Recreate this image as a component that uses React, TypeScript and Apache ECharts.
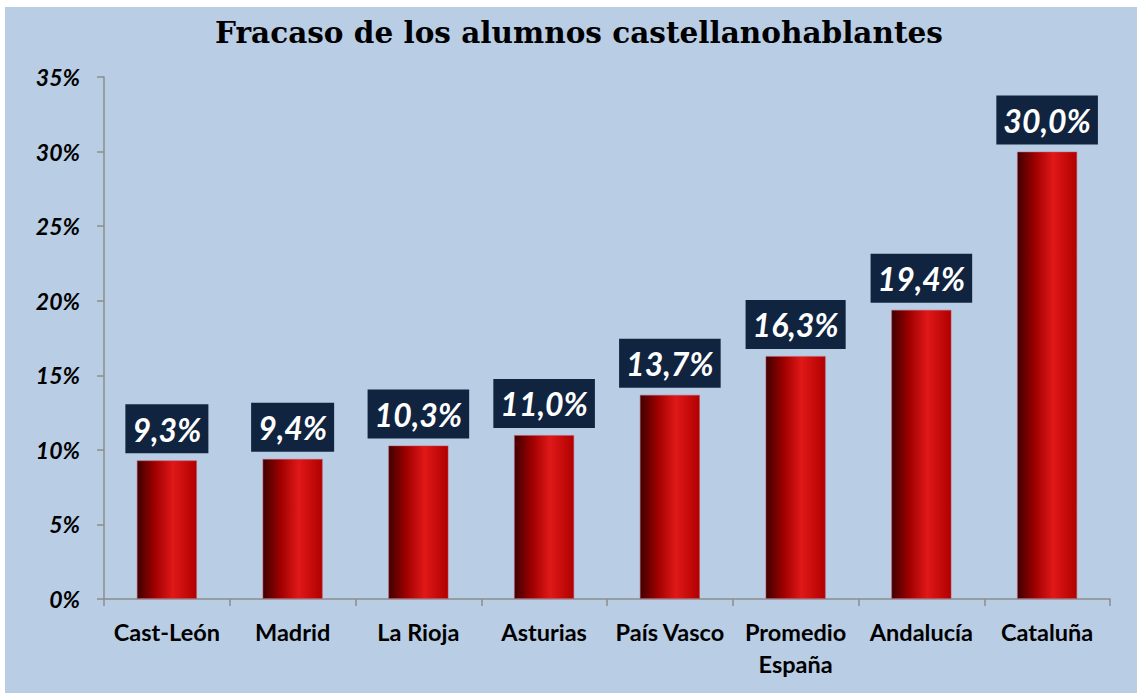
import React, { useEffect, useRef } from "react";
import * as echarts from "echarts";

const categories = ["Cast-León", "Madrid", "La Rioja", "Asturias", "País Vasco", "Promedio\nEspaña", "Andalucía", "Cataluña"];
const values = [9.3, 9.4, 10.3, 11.0, 13.7, 16.3, 19.4, 30.0];
const titleText = "Fracaso de los alumnos castellanohablantes";

export default function App() {
  const ref = useRef<HTMLDivElement>(null);
  useEffect(() => {
    if (!ref.current) return;
    const chart = echarts.init(ref.current, undefined, { renderer: "svg" });
    chart.setOption({
      animation: false,
      backgroundColor: "#b9cde5",
      title: {
        text: titleText,
        left: 569,
        top: 5,
        textAlign: "center",
        textStyle: { fontFamily: "DejaVu Serif", fontWeight: "bold", fontSize: 29.5, color: "#000" },
      },
      grid: { left: 99, right: 27, top: 70, bottom: 94 },
      xAxis: {
        type: "category",
        data: categories,
        axisLine: { lineStyle: { color: "#8c8c8c", width: 1.5 } },
        axisTick: { show: true, length: 7, alignWithLabel: false, lineStyle: { color: "#8c8c8c", width: 1.5 } },
        axisLabel: {
          interval: 0,
          margin: 17,
          fontFamily: "Lato",
          fontWeight: "bold",
          fontSize: 23.5,
          lineHeight: 32,
          color: "#000",
        },
      },
      yAxis: {
        type: "value",
        min: 0,
        max: 35,
        interval: 5,
        splitLine: { show: false },
        axisLine: { show: true, lineStyle: { color: "#8c8c8c", width: 1.5 } },
        axisTick: { show: true, length: 7, lineStyle: { color: "#8c8c8c", width: 1.5 } },
        axisLabel: {
          formatter: "{value}%",
          margin: 24,
          fontFamily: "Lato",
          fontWeight: "bold",
          fontStyle: "italic",
          fontSize: 23,
          color: "#000",
        },
      },
      series: [
        {
          type: "bar",
          data: values,
          barWidth: "48%",
          itemStyle: {
            borderColor: "rgba(200,80,100,0.5)",
            borderWidth: 1,
            color: new echarts.graphic.LinearGradient(0, 0, 1, 0, [
              { offset: 0, color: "#3f0000" },
              { offset: 0.3, color: "#a00000" },
              { offset: 0.6, color: "#e01818" },
              { offset: 1, color: "#b00000" },
            ]),
          },
          label: {
            show: true,
            position: "top",
            distance: 7,
            formatter: (p: any) => p.value.toFixed(1).replace(".", ",") + "%",
            backgroundColor: "#10243f",
            color: "#fff",
            fontFamily: "Lato",
            fontWeight: "bold",
            fontStyle: "italic",
            fontSize: 32,
            lineHeight: 36,
            padding: [7, 7, 6, 7],
          },
        },
      ],
    });
    return () => chart.dispose();
  }, []);
  return (
    <div
      ref={ref}
      style={{ position: "absolute", left: 5, top: 7, width: 1132, height: 686 }}
    />
  );
}
